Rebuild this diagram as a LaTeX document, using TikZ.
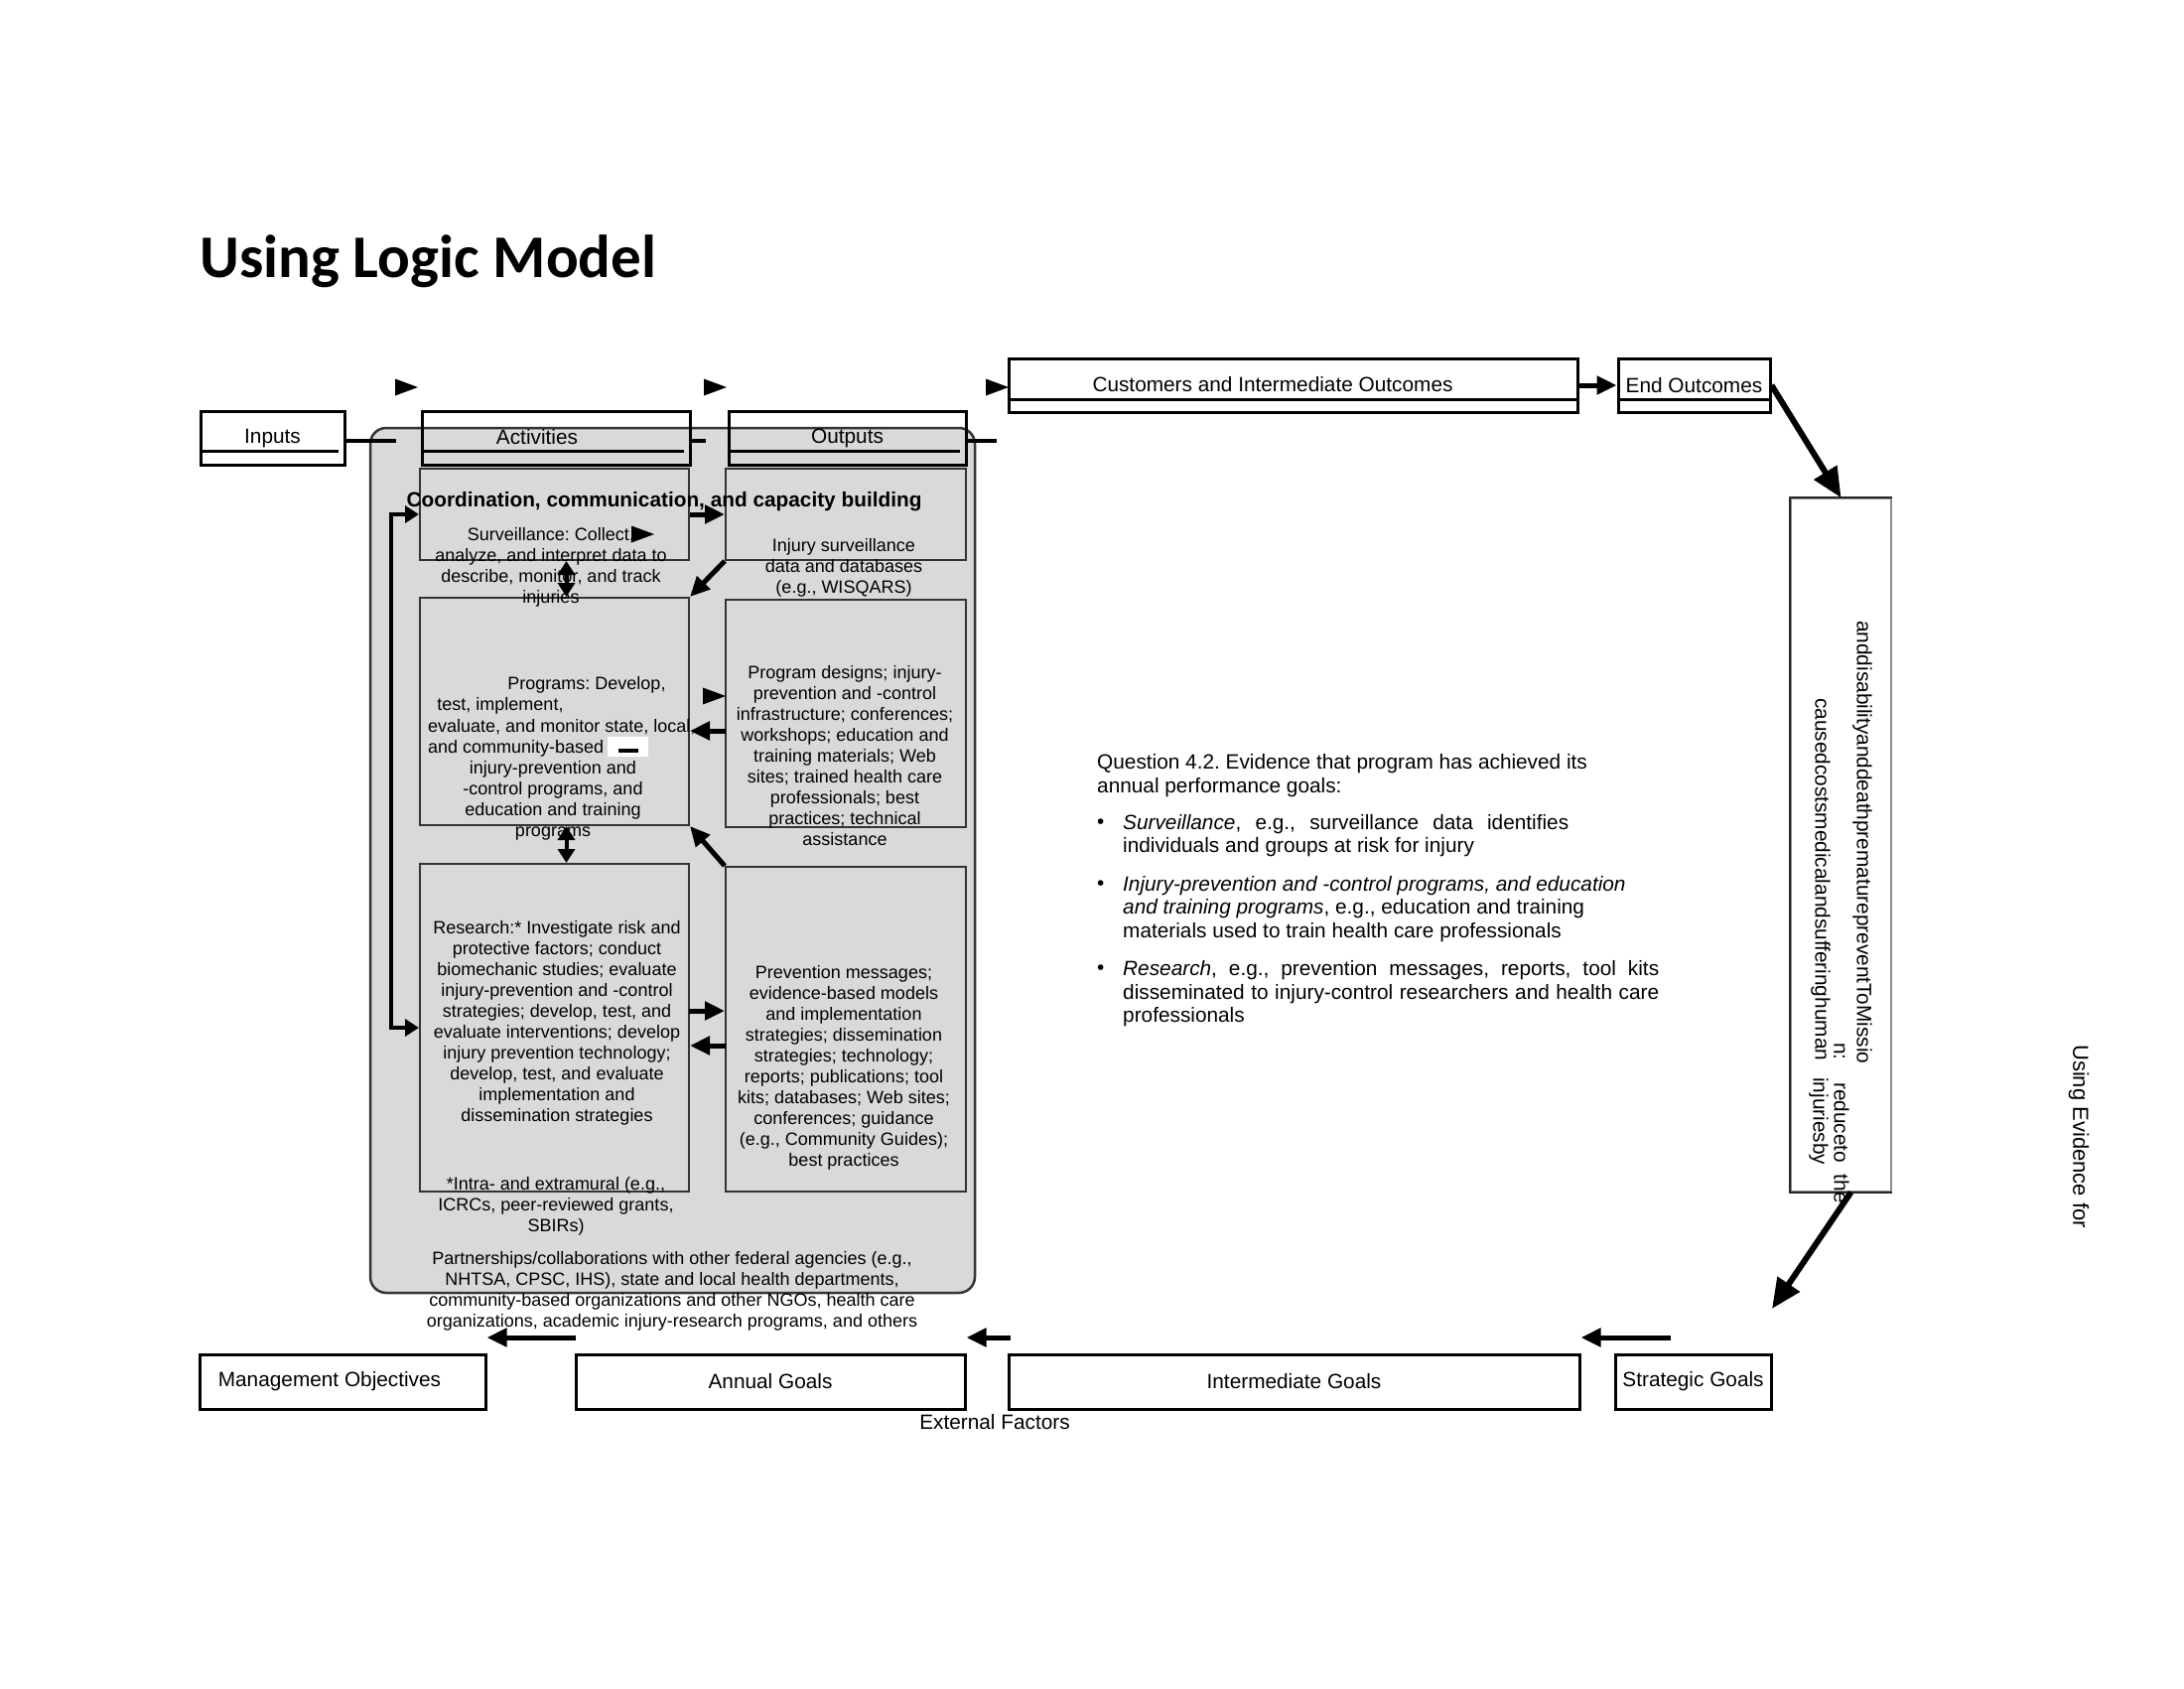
\documentclass[tikz,border=0pt]{standalone}
\usepackage{fontspec}
\setmainfont{Liberation Sans}
\newfontfamily\titlefont{Carlito}
\usetikzlibrary{arrows.meta}
\frenchspacing
\tikzstyle{hdr} = [rectangle, draw, line width=3pt, inner sep=0pt,
minimum height=54pt, font=\fontsize{20.8}{24}\selectfont]
\tikzstyle{goal} = [rectangle, draw, line width=3pt, inner sep=0pt,
minimum height=55pt, font=\fontsize{20.8}{24}\selectfont]
\tikzstyle{act} = [rectangle, draw=black!80, line width=2pt, inner sep=0pt]
\tikzstyle{panel} = [rectangle, draw=black!80, fill=black!15, line width=2.5pt,
rounded corners=16pt, inner sep=0pt]
\tikzstyle{note} = [align=center, inner sep=0pt, font=\fontsize{18}{21}\selectfont]
\tikzstyle{lbl} = [inner sep=0pt, font=\fontsize{20.8}{24}\selectfont]
\tikzstyle{quest} = [align=left, inner sep=0pt, font=\fontsize{20.8}{23.6}\selectfont]
\tikzstyle{sidetxt} = [rotate=-90, anchor=west, inner sep=0pt, font=\fontsize{20.8}{24}\selectfont]
\tikzstyle{line} = [draw, line width=5pt, -{Triangle[length=20pt,width=18pt]}]
\tikzstyle{bigline} = [draw, line width=6pt, -{Triangle[length=30pt,width=26pt]}]
\tikzstyle{dline} = [draw, line width=4pt,
{Triangle[length=14pt,width=17pt]}-{Triangle[length=14pt,width=17pt]}]
\tikzstyle{stub} = [draw, line width=4pt]
\tikzstyle{hrule} = [draw, line width=3pt]
\newcommand{\tipmark}[1]{\fill #1 -- ++(-23,-8.5) -- ++(0,17) -- cycle;}

\begin{document}
\frenchspacing
\begin{tikzpicture}[x=1pt, y=-1pt]
	\useasboundingbox (0,0) rectangle (2200,1700);
	\node [anchor=base west, inner sep=0pt, font=\titlefont\bfseries\fontsize{61}{70}\selectfont] (title) at (201,279) {Using Logic Model};
	% Place nodes
	\node [panel, minimum width=609pt, minimum height=871pt] (pan) at (677.5,866.5) {};
	\node [hdr, minimum width=145pt] (inp) at (274.5,441) {Inputs};
	\node [hdr, minimum width=270pt] (act) at (560,441) {};
	\node [lbl] (actl) at (541,440) {Activities};
	\node [hdr, minimum width=239pt] (out) at (853.5,441) {Outputs};
	\node [hdr, minimum width=573pt] (cio) at (1302.5,388) {};
	\node [lbl] (ciol) at (1282,387) {Customers and Intermediate Outcomes};
	\node [hdr, minimum width=153pt] (eout) at (1706.5,388) {End Outcomes};
	\foreach \n in {inp,act,out}
		\path [hrule] ([yshift=15pt]\n.south west) -- ([yshift=15pt,xshift=-8pt]\n.south east);
	\foreach \n in {cio,eout}
		\path [hrule] ([yshift=14pt]\n.south west) -- ([yshift=14pt]\n.south east);
	%
	\node [act, minimum width=271pt, minimum height=92pt] (srv) at (558.5,518) {};
	\node [act, minimum width=242pt, minimum height=92pt] (isd) at (852,518) {};
	\node [act, minimum width=271pt, minimum height=229pt] (prg) at (558.5,716.5) {};
	\node [act, minimum width=242pt, minimum height=229pt] (pds) at (852,718.5) {};
	\node [act, minimum width=271pt, minimum height=330pt] (res) at (558.5,1035) {};
	\node [act, minimum width=242pt, minimum height=327pt] (prv) at (852,1036.5) {};
	%
	\node [note, font=\fontsize{20.8}{24}\selectfont\bfseries] (coord) at (669,505) {Coordination, communication, and capacity building};
	\node [note] (srvt) at (555,571) {Surveillance: Collect,\\analyze, and interpret data to\\describe, monitor, and track\\injuries};
	\node [note] (isdt) at (850,571.5) {Injury surveillance\\data and databases\\(e.g., WISQARS)};
	\node [note] (prg1) at (591,690) {Programs: Develop,};
	\node [note] (prg2) at (504,711) {test, implement,};
	\node [note, anchor=west] (prg3) at (431,732) {evaluate, and monitor state, local,};
	\node [note, anchor=west] (prg4) at (431,754) {and community-based};
	\node [note] (prg5) at (557,806) {injury-prevention and\\-control programs, and\\education and training\\programs};
	\fill [white] (612,742) rectangle (653,762);
	\fill (623,754) rectangle (643,758);
	\node [note] (pdst) at (851,761) {Program designs; injury-\\prevention and -control\\infrastructure; conferences;\\workshops; education and\\training materials; Web\\sites; trained health care\\professionals; best\\practices; technical\\assistance};
	\node [note] (rest) at (561,1030.5) {Research:* Investigate risk and\\protective factors; conduct\\biomechanic studies; evaluate\\injury-prevention and -control\\strategies; develop, test, and\\evaluate interventions; develop\\injury prevention technology;\\develop, test, and evaluate\\implementation and\\dissemination strategies};
	\node [note] (resf) at (560,1214.5) {*Intra- and extramural (e.g.,\\ICRCs, peer-reviewed grants,\\SBIRs)};
	\node [note] (prvt) at (850,1075.5) {Prevention messages;\\evidence-based models\\and implementation\\strategies; dissemination\\strategies; technology;\\reports; publications; tool\\kits; databases; Web sites;\\conferences; guidance\\(e.g., Community Guides);\\best practices};
	\node [note] (part) at (677,1300.5) {Partnerships/collaborations with other federal agencies (e.g.,\\NHTSA, CPSC, IHS), state and local health departments,\\community-based organizations and other NGOs, health care\\organizations, academic injury-research programs, and others};
	%
	\node [quest, anchor=west] (qst) at (1105,781) {Question 4.2. Evidence that program has achieved its\\annual performance goals:};
	\node [quest, anchor=west] (bul1) at (1105,830) {•};
	\node [quest, anchor=west] (itm1) at (1131,841.7) {\makebox[449pt][s]{\textit{Surveillance}, e.g., surveillance data identifies}\\individuals and groups at risk for injury};
	\node [quest, anchor=west] (bul2) at (1105,891.7) {•};
	\node [quest, anchor=west] (itm2) at (1131,915.3) {\textit{Injury-prevention and -control programs, and education}\\\textit{and training programs}, e.g., education and training\\materials used to train health care professionals};
	\node [quest, anchor=west] (bul3) at (1105,977) {•};
	\node [quest, anchor=west] (itm3) at (1131,1000.8) {\makebox[540pt][s]{\textit{Research}, e.g., prevention messages, reports, tool kits}\\\makebox[540pt][s]{disseminated to injury-control researchers and health care}\\professionals};
	%
	\node [rectangle, draw=black!45, line width=1.5pt, minimum width=101pt, minimum height=698pt, inner sep=0pt] (mis) at (1854.5,851) {};
	\path [draw, line width=2pt, black!85] (mis.north east) -- (mis.north west) -- (mis.south west) -- (mis.south east);
	\node [sidetxt] (mis1) at (1876,625) {anddisabilityanddeathprematurepreventToMissio};
	\node [sidetxt] (mis2) at (1853,1050) {n:};
	\node [sidetxt] (mis3) at (1855,1090) {reduceto~ the};
	\node [sidetxt] (mis4) at (1834,703) {causedcostsmedicalandsufferinghuman};
	\node [sidetxt] (mis5) at (1832,1085) {injuriesby};
	\node [sidetxt, font=\fontsize{22}{26}\selectfont] (uef) at (2094,1052) {Using Evidence for};
	%
	\node [goal, minimum width=288pt] (mob) at (345,1391.5) {};
	\node [lbl] (mobl) at (332,1391) {Management Objectives};
	\node [goal, minimum width=392pt] (ann) at (776,1391.5) {Annual Goals};
	\node [goal, minimum width=575pt] (itg) at (1303.5,1391.5) {Intermediate Goals};
	\node [goal, minimum width=157pt] (stg) at (1705.5,1391.5) {Strategic Goals};
	\node [lbl] (ext) at (1002,1432) {External Factors};
	%
	\tipmark{(421,390)}
	\tipmark{(732,390)}
	\tipmark{(1016,390)}
	\tipmark{(659,538)}
	\tipmark{(731,701)}
	\coordinate (s1) at (399,444);
	\coordinate (s2) at (711,444);
	\coordinate (s3) at (1004,444);
	\path [stub] (s1 -| inp.east) -- (s1);
	\path [stub] (s2 -| act.east) -- (s2);
	\path [stub] (s3 -| out.east) -- (s3);
	%
	\path [line] (cio.east) -- (eout.west);
	\path [bigline] (eout.east) -- (mis.north);
	\coordinate (sgo) at (1785,1318);
	\path [bigline] ([xshift=10pt]mis.south) -- (sgo);
	\coordinate (g1) at (580,1347);
	\coordinate (g2) at (1018,1347);
	\coordinate (g3) at (1683,1347);
	\path [line] (g1) -- (g1 -| mob.east);
	\path [line] (g2) -- (g2 -| ann.east);
	\path [line] (g3) -- (g3 -| itg.east);
	%
	\path [line] (srv.east) -- (isd.west);
	\path [line] (isd.south west) -- (prg.north east);
	\coordinate (pa) at (731,736);
	\path [line] (pa) -- (pa -| prg.east);
	\path [line] (prv.north west) -- (prg.south east);
	\coordinate (ra) at (694,1018);
	\path [line] (ra) -- (ra -| prv.west);
	\coordinate (rb) at (731,1053);
	\path [line] (rb) -- (rb -| res.east);
	\path [dline] ([xshift=12pt]srv.south) -- ([xshift=12pt]prg.north);
	\path [dline] ([xshift=12pt]prg.south) -- ([xshift=12pt]res.north);
	\coordinate (lp) at (394,777);
	\path [dline] (srv.west) -| (lp) |- (res.west);
\end{tikzpicture}
\end{document}
